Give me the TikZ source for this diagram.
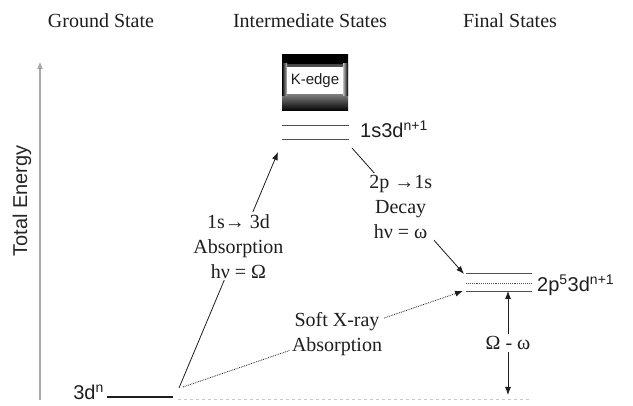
\documentclass[tikz,border=0pt]{standalone}
\usepackage{fontspec}
\setmainfont{Liberation Serif}
\setsansfont{Liberation Sans}
\usetikzlibrary{arrows.meta, positioning}
\definecolor{lvgrey}{HTML}{505050}
\definecolor{axgrey}{HTML}{A8A8A8}
\definecolor{txdark}{HTML}{1E1E1E}
\definecolor{bsgrey}{HTML}{C8C8C8}

\begin{document}
\begin{tikzpicture}[x=1pt, y=-1pt,
      head/.style={font=\fontsize{20}{24}\selectfont, text=txdark, anchor=base},
      lbl/.style={font=\fontsize{20}{25}\selectfont, text=txdark, align=center, fill=white, inner sep=2pt},
      st/.style={font=\sffamily\fontsize{20}{24}\selectfont, text=txdark, inner sep=0pt},
      lvl/.style={lvgrey, line width=0.9pt},
      tr/.style={-{Latex[length=8pt,width=6pt]}, txdark, line width=0.8pt}]

      \useasboundingbox (0,0) rectangle (633,406);

      \node[head] (gs) at (101,28) {Ground State};
      \node[head] (is) at (310,28) {Intermediate States};
      \node[head] (fs) at (510,28) {Final States};

      \coordinate (ebot) at (40,400); \coordinate (etop) at (40,61);
      \draw[axgrey, line width=1.6pt, -{Latex[length=8pt,width=6pt]}] (ebot) -- (etop);
      \node[st, rotate=90, text=black!85] (te) at (22,201) {Total Energy};

      \shade[top color=black, bottom color=black, middle color=gray!35] (282,55) rectangle (348,111);
      \fill[black] (282,55) rectangle (348,64);
      \shade[left color=black, right color=gray!50] (282,64) rectangle (287,96);
      \shade[left color=gray!50, right color=black] (343,64) rectangle (348,96);
      \node[fill=white, minimum width=56pt, minimum height=27pt, inner sep=0pt,
            font=\sffamily\fontsize{15}{18}\selectfont, text=txdark] (kedge) at (315,81) {K-edge};

      \draw[lvl, line width=1.1pt, txdark] (107,397) -- (173,397);
      \node[st, anchor=base east] (gnd) at (104,400) {3d\textsuperscript{n}};

      \draw[lvl] (282,125) -- (349,125); \draw[lvl] (282,139) -- (349,139);
      \node[st, anchor=base west] (mid) at (360,138) {1s3d\textsuperscript{n+1}};

      \draw[lvl] (466,273) -- (532,273);
      \draw[lvl, densely dotted, line width=0.7pt] (466,283) -- (532,283);
      \draw[lvl] (466,291) -- (532,291);
      \node[st, anchor=base west] (fin) at (537,292) {2p\textsuperscript{5}3d\textsuperscript{n+1}};

      \draw[bsgrey, dashed, line width=0.8pt] (178,399) -- (532,399);

      \coordinate (g1) at (179,388); \coordinate (i1) at (278,152);
      \coordinate (i2) at (352,148); \coordinate (f1) at (464,274);
      \coordinate (g2) at (183,387); \coordinate (f2) at (463,291);
      \coordinate (b3) at (508,395); \coordinate (f3) at (508,291);

      \draw[tr] (g1) -- node[lbl, pos=.6] {1s→ 3d\\Absorption\\hν = Ω} (i1);
      \draw[tr] (i2) -- node[lbl, pos=.47, xshift=-4pt] {2p →1s\\Decay\\hν = ω} (f1);
      \draw[tr, densely dotted] (g2) -- node[lbl, pos=.55] {Soft X-ray\\Absorption} (f2);
      \draw[tr, {Latex[length=8pt,width=6pt]}-{Latex[length=8pt,width=6pt]}] (b3) -- node[lbl] {Ω - ω} (f3);
    \end{tikzpicture}
\end{document}
